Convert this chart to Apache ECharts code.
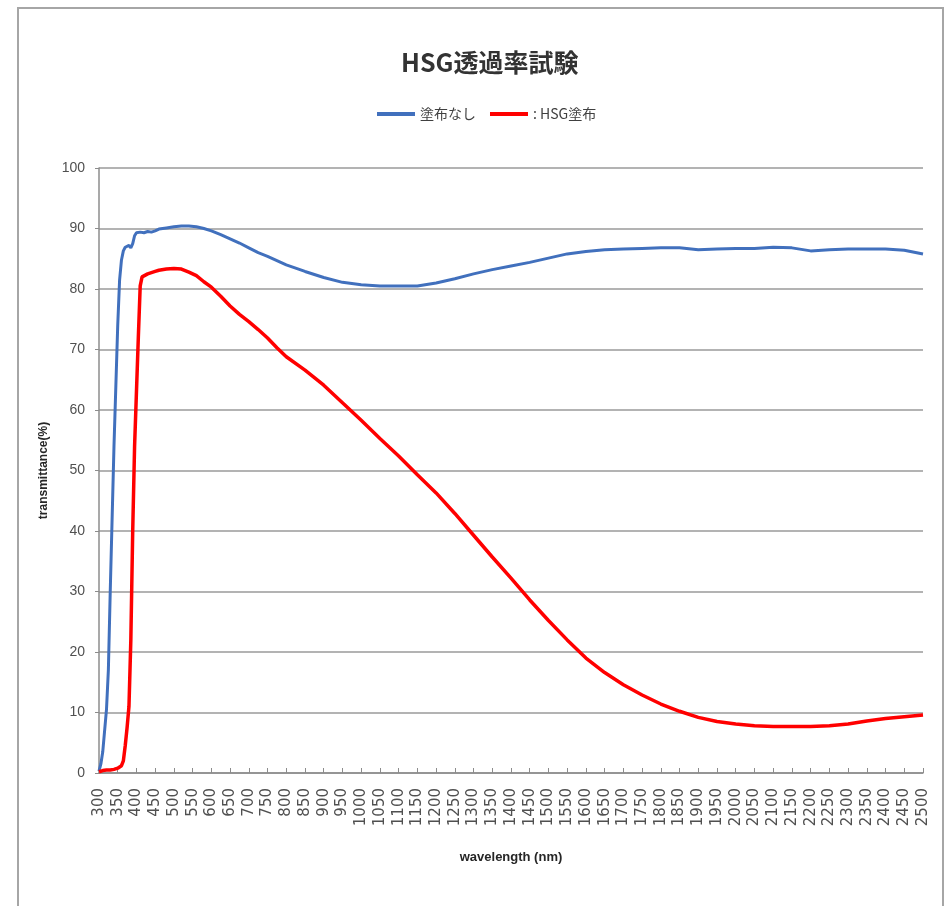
<!DOCTYPE html>
<html>
<head>
<meta charset="utf-8">
<script src="https://cdn.jsdelivr.net/npm/echarts@6/dist/echarts.min.js"></script>
<style>
  html, body { margin: 0; padding: 0; background: #fff; }
  #chart { width: 949px; height: 906px; }
</style>
</head>
<body>
<div id="chart"></div>
<script>
// Transmittance spectra (wavelength in nm, transmittance in %)
const titleText = 'HSG透過率試験';
const seriesNames = ['塗布なし', ': HSG塗布'];

const uncoatedNm = [300, 305, 310, 315, 320, 325, 330, 335, 340, 345, 350, 355, 360, 365, 370, 375, 380, 385, 390, 395,
  400, 410, 420, 430, 440, 450, 460, 470, 480, 500, 520, 540, 560, 580, 600, 625, 650, 675, 700, 725, 750, 775, 800,
  850, 900, 950, 1000, 1050, 1100, 1150, 1200, 1250, 1300, 1350, 1400, 1450, 1500, 1550, 1600, 1650, 1700, 1750, 1800,
  1850, 1900, 1950, 2000, 2050, 2100, 2150, 2200, 2250, 2300, 2350, 2400, 2450, 2500];
const uncoatedT = [0.3, 1.5, 3.5, 7, 10.5, 17, 30, 42, 54, 64, 74, 81.5, 84.8, 86.3, 86.9, 86.6, 87.2, 86.8, 87.5, 88.8,
  89.3, 89.4, 89.3, 89.5, 89.4, 89.6, 89.9, 90.0, 90.1, 90.3, 90.4, 90.4, 90.3, 90.0, 89.6, 89.0, 88.3, 87.6, 86.8, 86.0, 85.4, 84.7, 84.0,
  82.9, 81.9, 81.1, 80.7, 80.5, 80.5, 80.5, 81.0, 81.7, 82.5, 83.2, 83.8, 84.4, 85.1, 85.8, 86.2, 86.5, 86.6, 86.7, 86.8,
  86.8, 86.5, 86.6, 86.7, 86.7, 86.9, 86.8, 86.3, 86.5, 86.6, 86.6, 86.6, 86.4, 85.8];

const coatedNm = [300, 310, 320, 330, 340, 350, 355, 360, 365, 370, 375, 380, 385, 390, 395, 400, 405, 410, 415, 420,
  430, 440, 450, 460, 480, 500, 520, 540, 560, 580, 600, 625, 650, 675, 700, 725, 750, 775, 800,
  850, 900, 950, 1000, 1050, 1100, 1150, 1200, 1250, 1300, 1350, 1400, 1450, 1500, 1550, 1600, 1650, 1700, 1750, 1800,
  1850, 1900, 1950, 2000, 2050, 2100, 2150, 2200, 2250, 2300, 2350, 2400, 2450, 2500];
const coatedT = [0.2, 0.4, 0.5, 0.5, 0.6, 0.8, 0.9, 1.2, 2.0, 4.5, 7.5, 11, 22, 40, 54, 63, 72, 80.5, 82.0, 82.3,
  82.5, 82.7, 82.9, 83.1, 83.3, 83.4, 83.3, 82.8, 82.2, 81.2, 80.3, 78.8, 77.2, 75.8, 74.6, 73.3, 71.9, 70.3, 68.8,
  66.6, 64.1, 61.2, 58.3, 55.3, 52.4, 49.3, 46.3, 42.9, 39.3, 35.7, 32.2, 28.6, 25.2, 22.0, 19.0, 16.6, 14.6, 12.9, 11.4,
  10.2, 9.2, 8.5, 8.1, 7.8, 7.7, 7.7, 7.7, 7.8, 8.1, 8.6, 9.0, 9.3, 9.6];

const xMin = 300, xMax = 2500, xStep = 50;
const yMin = 0, yMax = 100, yStep = 10;

const pair = (xs, ys) => xs.map((x, i) => [x, ys[i]]);

const chart = echarts.init(document.getElementById('chart'), null, { renderer: 'canvas' });
chart.setOption({
  backgroundColor: '#ffffff',
  animation: false,
  title: {
    text: titleText,
    left: 396,
    top: 45,
    textStyle: { fontFamily: 'Noto Sans CJK JP', fontSize: 25, fontWeight: 'bold', color: '#333333' }
  },
  legend: {
    top: 102,
    left: 372,
    icon: 'rect',
    itemWidth: 38,
    itemHeight: 4,
    itemGap: 14,
    textStyle: { fontFamily: 'Noto Sans CJK JP', fontSize: 14, color: '#404040' },
    data: seriesNames
  },
  graphic: [{
    type: 'rect',
    shape: { x: 18, y: 8, width: 925, height: 920 },
    style: { fill: 'none', stroke: '#a6a6a6', lineWidth: 2 },
    silent: true
  }],
  grid: { left: 99, right: 26, top: 168, bottom: 133, containLabel: false },
  xAxis: {
    type: 'value',
    min: xMin,
    max: xMax,
    interval: xStep,
    name: 'wavelength (nm)',
    nameLocation: 'middle',
    nameGap: 78,
    nameTextStyle: { fontFamily: 'Liberation Sans', fontSize: 13, fontWeight: 'bold', color: '#262626' },
    axisLine: { lineStyle: { color: '#8c8c8c', width: 1.5 } },
    axisTick: { inside: true, length: 5, lineStyle: { color: '#8c8c8c' } },
    axisLabel: {
      rotate: 90, margin: 15, fontFamily: 'DejaVu Sans', fontSize: 15, color: '#505050',
      formatter: v => String(v)
    },
    splitLine: { show: false }
  },
  yAxis: {
    type: 'value',
    min: yMin,
    max: yMax,
    interval: yStep,
    name: 'transmittance(%)',
    nameLocation: 'middle',
    nameGap: 49,
    nameTextStyle: { fontFamily: 'Liberation Sans', fontSize: 12, fontWeight: 'bold', color: '#262626' },
    axisLine: { show: true, lineStyle: { color: '#8c8c8c', width: 1.5 } },
    axisTick: { show: true, length: 4, lineStyle: { color: '#8c8c8c' } },
    axisLabel: { margin: 14, fontFamily: 'Liberation Sans', fontSize: 14, color: '#505050' },
    splitLine: { lineStyle: { color: '#9a9a9a', width: 1.5 } }
  },
  series: [
    {
      name: seriesNames[0],
      type: 'line',
      showSymbol: false,
      data: pair(uncoatedNm, uncoatedT),
      itemStyle: { color: '#4170bd' },
      lineStyle: { color: '#4170bd', width: 3 }
    },
    {
      name: seriesNames[1],
      type: 'line',
      showSymbol: false,
      data: pair(coatedNm, coatedT),
      itemStyle: { color: '#ff0000' },
      lineStyle: { color: '#ff0000', width: 3.5 }
    }
  ]
});
</script>
</body>
</html>
